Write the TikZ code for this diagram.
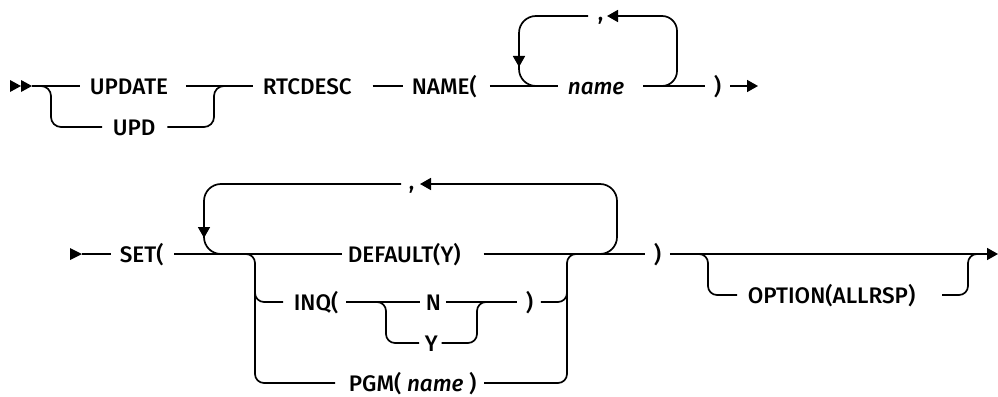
\documentclass[tikz,border=0pt]{standalone}
\usepackage{fontspec}
\setmainfont{Fira Sans}[UprightFont=* Medium,ItalicFont=* Medium Italic]
\usetikzlibrary{arrows.meta}
\begin{document}
\begin{tikzpicture}[x=1pt,y=-1pt,line width=1.7pt,
  every node/.style={font=\fontsize{22.5}{27}\selectfont,inner sep=0pt,text height=16pt,text depth=0pt,anchor=west},
  commanode/.style={anchor=base west},
  tip/.style={-{Triangle[length=11pt,width=12pt]}},
  rc/.style={rounded corners=#1}]
\useasboundingbox (0,0) rectangle (998,396);
% ---------- row 1 ----------
\fill (10,80) -- (21,86) -- (10,92) -- cycle;
\fill (21,80) -- (32,86) -- (21,92) -- cycle;
\coordinate (st) at (32,86);
\node (update) at (89,86) {UPDATE};
\node (upd) at (112,127) {UPD};
\node (rtc) at (262,86) {RTCDESC};
\node (nm) at (411,86) {NAME(};
\node (name1) at (567,86) {\textit{name}};
\node (rp1) at (713,86) {)};
\node[commanode] (comma1) at (597,21) {,};
\coordinate (end1) at (758,86);
\draw (st) -- ([xshift=-9pt]update.west);
\draw[rc=10pt] (41,86) -- (51,86) -- (51,127) -- ([xshift=-10pt]upd.west);
\draw ([xshift=17pt]update.east) -- ([xshift=-9pt]rtc.west);
\draw[rc=10pt] ([xshift=11pt]upd.east) -- (214,127) -- (214,86) -- (224,86);
\draw ([xshift=20pt]rtc.east) -- ([xshift=-8pt]nm.west);
\draw ([xshift=12pt]nm.east) -- ([xshift=-9pt]name1.west);
\draw[tip,rc=17pt] (588,16) -- (519,16) -- (519,67);
\draw[rc=17pt] (519,60) -- (519,86) -- (545,86);
\draw ([xshift=18pt]name1.east) -- ([xshift=-8pt]rp1.west);
\draw[tip,rc=15pt] (655,86) -- (677,86) -- (677,16) -- (607,16);
\draw[tip] ([xshift=8pt]rp1.east) -- (end1);
% ---------- row 2 ----------
\fill (70,248) -- (82,254) -- (70,260) -- cycle;
\coordinate (st2) at (82,254);
\node (set) at (119,254) {SET(};
\node (dflt) at (347,254) {DEFAULT(Y)};
\node (inq) at (293,302) {INQ(};
\node (n) at (425,302) {N};
\node (y) at (424,343) {Y};
\node (rp2) at (525,302) {)};
\node (pgm) at (348,383) {PGM( \textit{name} )};
\node (rp3) at (653,254) {)};
\node (opt) at (747,295) {OPTION(ALLRSP)};
\node[commanode] (comma2) at (408,189) {,};
\coordinate (end2) at (998,254);
\draw (st2) -- ([xshift=-8pt]set.west);
\draw ([xshift=10pt]set.east) -- ([xshift=-5pt]dflt.west);
\draw[tip,rc=17pt] (401,184) -- (204,184) -- (204,238);
\draw[rc=17pt] (204,228) -- (204,254) -- (230,254);
\draw[tip,rc=17pt] (595,254) -- (617,254) -- (617,184) -- (420,184);
\draw[rc=9pt] (245,254) -- (255,254) -- (255,383) -- ([xshift=-13pt]pgm.west);
\draw[rc=9pt] (255,290) -- (255,302) -- ([xshift=-10pt]inq.west);
\draw ([xshift=7pt]inq.east) -- ([xshift=-5pt]n.west);
\draw[rc=9pt] (376,302) -- (386,302) -- (386,343) -- ([xshift=-5pt]y.west);
\draw[rc=9pt] ([xshift=3pt]y.east) -- (477,343) -- (477,302) -- (487,302);
\draw ([xshift=4pt]n.east) -- ([xshift=-8pt]rp2.west);
\draw[rc=9pt] ([xshift=7pt]rp2.east) -- (567,302) -- (567,292);
\draw[rc=9pt] ([xshift=7pt]pgm.east) -- (567,383) -- (567,254) -- (577,254);
\draw ([xshift=22pt]dflt.east) -- ([xshift=-8pt]rp3.west);
\draw[tip] ([xshift=8pt]rp3.east) -- (end2);
\draw[rc=9pt] (698,254) -- (708,254) -- (708,295) -- ([xshift=-10pt]opt.west);
\draw[rc=9pt] ([xshift=26pt]opt.east) -- (968,295) -- (968,254) -- (978,254);
\end{tikzpicture}
\end{document}
